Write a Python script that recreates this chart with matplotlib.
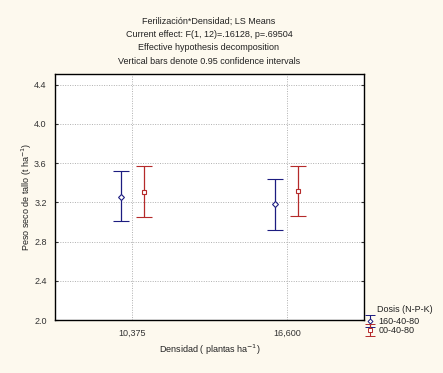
import numpy as np
import matplotlib
matplotlib.use('Agg')
from matplotlib import pyplot as plt
from matplotlib.legend_handler import HandlerErrorbar

plt.rcParams['font.family'] = ['Liberation Sans', 'DejaVu Sans']

densidad = ['10,375', '16,600']
dosis = ['160-40-80', '00-40-80']

# LS means and 95% CI bounds (t ha-1)
media_160 = [3.26, 3.18]
low_160 = [3.01, 2.92]
high_160 = [3.52, 3.44]
media_00 = [3.31, 3.32]
low_00 = [3.05, 3.06]
high_00 = [3.57, 3.57]

bg = '#fdf9ee'
fig = plt.figure(figsize=(4.43, 3.73), dpi=100, facecolor=bg)
ax = fig.add_axes([55 / 443, 1 - 320 / 373, 309 / 443, 246 / 373])
ax.set_facecolor('white')

x = np.arange(len(densidad))
off = 0.075
series = [
    (media_160, low_160, high_160, '#1c1c80', 'D', -off, dosis[0]),
    (media_00, low_00, high_00, '#b52a2a', 's', off, dosis[1]),
]
handles = []
for m, lo, hi, col, mk, dx, lab in series:
    m = np.array(m)
    err = [m - np.array(lo), np.array(hi) - m]
    ax.errorbar(x + dx, m, yerr=err, fmt=mk, color=col, ecolor=col,
                mfc='white', mec=col, ms=3.0, mew=0.8, elinewidth=0.9,
                capsize=6, capthick=0.9)
    # small proxy for the legend glyph, drawn off-limits
    h = ax.errorbar([-9], [0], yerr=[0.1], fmt=mk, color=col, ecolor=col,
                    mfc='white', mec=col, ms=2.5, mew=0.7, elinewidth=0.8,
                    capsize=3.5, capthick=0.8, label=lab)
    handles.append(h)

ax.set_xlim(-0.5, 1.5)
ax.set_ylim(2.0, 4.51)
ax.set_yticks([2.0, 2.4, 2.8, 3.2, 3.6, 4.0, 4.4])
ax.set_yticklabels(['2.0', '2.4', '2.8', '3.2', '3.6', '4.0', '4.4'])
ax.set_xticks(x)
ax.set_xticklabels(densidad)
ax.grid(True, color='#b0b0b0', linestyle=(0, (1, 1.5)), linewidth=0.7)
ax.set_axisbelow(True)
ax.tick_params(axis='both', labelsize=6.5, colors='#333333', length=0, pad=6)
ax.tick_params(axis='y', right=True, direction='in', length=2)
for s in ax.spines.values():
    s.set_linewidth(1.0)
    s.set_color('black')

ax.set_ylabel('Peso seco de tallo (t ha$^{-1}$)', fontsize=6.5, labelpad=0,
              color='#222222')
ax.set_xlabel('Densidad ( plantas ha$^{-1}$)', fontsize=6.5, labelpad=4,
              color='#222222')

titulo = ['Ferilización*Densidad; LS Means',
          'Current effect: F(1, 12)=.16128, p=.69504',
          'Effective hypothesis decomposition',
          'Vertical bars denote 0.95 confidence intervals']
for i, t in enumerate(titulo):
    fig.text(209 / 443, 1 - (21 + 13.5 * i) / 373, t, ha='center', va='center',
             fontsize=6.5, color='#222222')

fig.text(405 / 443, 1 - 310 / 373, 'Dosis (N-P-K)', ha='center', va='center',
         fontsize=6.5, color='#222222')
leg = fig.legend(handles=handles, labels=dosis, loc='upper left',
                 bbox_to_anchor=(366 / 443, 1 - 317 / 373), frameon=False,
                 fontsize=6.5, handlelength=0.9, handletextpad=0.5,
                 labelspacing=0.0, borderaxespad=0, borderpad=0,
                 handler_map={type(handles[0]): HandlerErrorbar(yerr_size=0.7)})
for t in leg.get_texts():
    t.set_color('#222222')

fig.savefig('out.png', dpi=100, facecolor=bg)
